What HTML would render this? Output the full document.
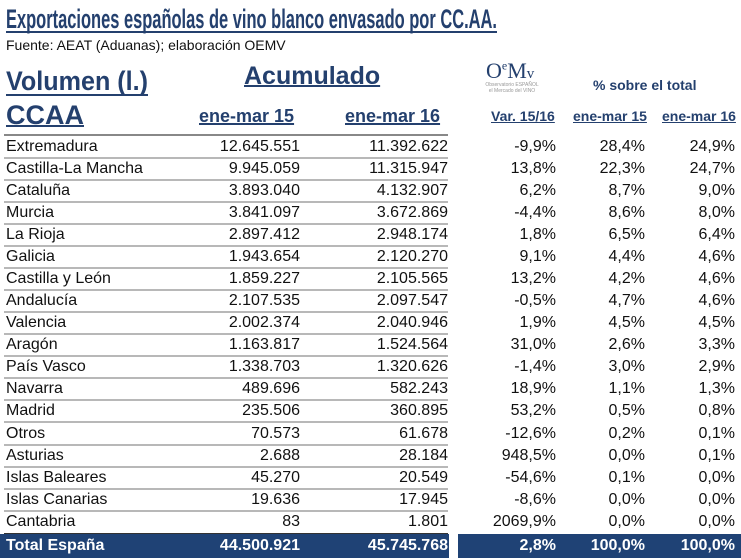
<!DOCTYPE html>
<html><head><meta charset="utf-8"><style>
body{margin:0;width:741px;height:560px;background:#fff;position:relative;overflow:hidden;font-family:"Liberation Sans",sans-serif;color:#111;}
.a{position:absolute;white-space:nowrap}
.h{color:#24406e;font-weight:bold;text-decoration:underline;text-decoration-thickness:2px}
.r{position:absolute;left:0;width:741px;height:22px;font-size:16px;line-height:22px}
.r span{position:absolute;white-space:nowrap}
.r .n{left:6px}
.r .c1{right:441px}.r .c2{right:293px}.r .c3{right:185px}.r .c4{right:96px}.r .c5{right:6px}
.r .ln{position:absolute;left:4px;width:444px;top:21px;height:2px;background:#b8b8b8}
.tot{color:#fff;font-weight:bold}
svg{position:absolute;left:0;top:0}
</style></head><body>
<svg width="741" height="100">
<text x="6" y="28" font-family="Liberation Sans" font-weight="bold" font-size="27" fill="#24406e" textLength="491" lengthAdjust="spacingAndGlyphs">Exportaciones españolas de vino blanco envasado por CC.AA.</text>
<rect x="6" y="31" width="491" height="2" fill="#24406e"/>
<text x="6" y="90" font-family="Liberation Sans" font-weight="bold" font-size="27" fill="#24406e" textLength="142" lengthAdjust="spacingAndGlyphs">Volumen (l.)</text>
<rect x="6" y="94" width="142" height="2" fill="#24406e"/>
</svg>
<div class="a" style="left:6px;top:37px;font-size:14px;">Fuente: AEAT (Aduanas); elaboración OEMV</div>
<div class="a h" style="left:244px;top:62px;font-size:25px;">Acumulado</div>
<div class="a h" style="left:6px;top:100px;font-size:27px;">CCAA</div>
<div class="a h" style="left:199px;top:106px;font-size:18px;">ene-mar 15</div>
<div class="a h" style="left:345px;top:106px;font-size:18px;">ene-mar 16</div>
<div class="a" style="left:486px;top:58px;font-size:22px;color:#24406e;font-family:'Liberation Serif',serif;">O<sup style="font-size:12px">e</sup>M<span style="font-size:15px">v</span></div>
<div class="a" style="left:484px;top:82px;font-size:5px;color:#999;line-height:6px;text-align:center;width:56px">Observatorio ESPAÑOL<br>el Mercado del VINO</div>
<div class="a" style="left:593px;top:77px;font-size:14px;font-weight:bold;color:#24406e">% sobre el total</div>
<div class="a h" style="left:491px;top:108px;font-size:14px;text-decoration-thickness:1px">Var. 15/16</div>
<div class="a h" style="left:573px;top:108px;font-size:14px;text-decoration-thickness:1px">ene-mar 15</div>
<div class="a h" style="left:662px;top:108px;font-size:14px;text-decoration-thickness:1px">ene-mar 16</div>
<div class="a" style="left:4px;top:134px;width:444px;height:2px;background:#888"></div>

<div class="r" style="top:136px"><span class="n">Extremadura</span><span class="c1">12.645.551</span><span class="c2">11.392.622</span><span class="c3">-9,9%</span><span class="c4">28,4%</span><span class="c5">24,9%</span><i class="ln"></i></div>
<div class="r" style="top:158px"><span class="n">Castilla-La Mancha</span><span class="c1">9.945.059</span><span class="c2">11.315.947</span><span class="c3">13,8%</span><span class="c4">22,3%</span><span class="c5">24,7%</span><i class="ln"></i></div>
<div class="r" style="top:180px"><span class="n">Cataluña</span><span class="c1">3.893.040</span><span class="c2">4.132.907</span><span class="c3">6,2%</span><span class="c4">8,7%</span><span class="c5">9,0%</span><i class="ln"></i></div>
<div class="r" style="top:202px"><span class="n">Murcia</span><span class="c1">3.841.097</span><span class="c2">3.672.869</span><span class="c3">-4,4%</span><span class="c4">8,6%</span><span class="c5">8,0%</span><i class="ln"></i></div>
<div class="r" style="top:224px"><span class="n">La Rioja</span><span class="c1">2.897.412</span><span class="c2">2.948.174</span><span class="c3">1,8%</span><span class="c4">6,5%</span><span class="c5">6,4%</span><i class="ln"></i></div>
<div class="r" style="top:246px"><span class="n">Galicia</span><span class="c1">1.943.654</span><span class="c2">2.120.270</span><span class="c3">9,1%</span><span class="c4">4,4%</span><span class="c5">4,6%</span><i class="ln"></i></div>
<div class="r" style="top:268px"><span class="n">Castilla y León</span><span class="c1">1.859.227</span><span class="c2">2.105.565</span><span class="c3">13,2%</span><span class="c4">4,2%</span><span class="c5">4,6%</span><i class="ln"></i></div>
<div class="r" style="top:290px"><span class="n">Andalucía</span><span class="c1">2.107.535</span><span class="c2">2.097.547</span><span class="c3">-0,5%</span><span class="c4">4,7%</span><span class="c5">4,6%</span><i class="ln"></i></div>
<div class="r" style="top:312px"><span class="n">Valencia</span><span class="c1">2.002.374</span><span class="c2">2.040.946</span><span class="c3">1,9%</span><span class="c4">4,5%</span><span class="c5">4,5%</span><i class="ln"></i></div>
<div class="r" style="top:334px"><span class="n">Aragón</span><span class="c1">1.163.817</span><span class="c2">1.524.564</span><span class="c3">31,0%</span><span class="c4">2,6%</span><span class="c5">3,3%</span><i class="ln"></i></div>
<div class="r" style="top:356px"><span class="n">País Vasco</span><span class="c1">1.338.703</span><span class="c2">1.320.626</span><span class="c3">-1,4%</span><span class="c4">3,0%</span><span class="c5">2,9%</span><i class="ln"></i></div>
<div class="r" style="top:378px"><span class="n">Navarra</span><span class="c1">489.696</span><span class="c2">582.243</span><span class="c3">18,9%</span><span class="c4">1,1%</span><span class="c5">1,3%</span><i class="ln"></i></div>
<div class="r" style="top:400px"><span class="n">Madrid</span><span class="c1">235.506</span><span class="c2">360.895</span><span class="c3">53,2%</span><span class="c4">0,5%</span><span class="c5">0,8%</span><i class="ln"></i></div>
<div class="r" style="top:423px"><span class="n">Otros</span><span class="c1">70.573</span><span class="c2">61.678</span><span class="c3">-12,6%</span><span class="c4">0,2%</span><span class="c5">0,1%</span><i class="ln"></i></div>
<div class="r" style="top:445px"><span class="n">Asturias</span><span class="c1">2.688</span><span class="c2">28.184</span><span class="c3">948,5%</span><span class="c4">0,0%</span><span class="c5">0,1%</span><i class="ln"></i></div>
<div class="r" style="top:467px"><span class="n">Islas Baleares</span><span class="c1">45.270</span><span class="c2">20.549</span><span class="c3">-54,6%</span><span class="c4">0,1%</span><span class="c5">0,0%</span><i class="ln"></i></div>
<div class="r" style="top:489px"><span class="n">Islas Canarias</span><span class="c1">19.636</span><span class="c2">17.945</span><span class="c3">-8,6%</span><span class="c4">0,0%</span><span class="c5">0,0%</span><i class="ln"></i></div>
<div class="r" style="top:511px"><span class="n">Cantabria</span><span class="c1">83</span><span class="c2">1.801</span><span class="c3">2069,9%</span><span class="c4">0,0%</span><span class="c5">0,0%</span></div>
<div class="a" style="left:4px;top:533px;width:444px;height:1px;background:#333"></div>
<div class="a" style="left:0;top:534px;width:449px;height:24px;background:#1f4275"></div>
<div class="a" style="left:458px;top:534px;width:283px;height:24px;background:#1f4275"></div>
<div class="r tot" style="top:535px"><span class="n">Total España</span><span class="c1">44.500.921</span><span class="c2">45.745.768</span><span class="c3">2,8%</span><span class="c4">100,0%</span><span class="c5">100,0%</span></div>
</body></html>
